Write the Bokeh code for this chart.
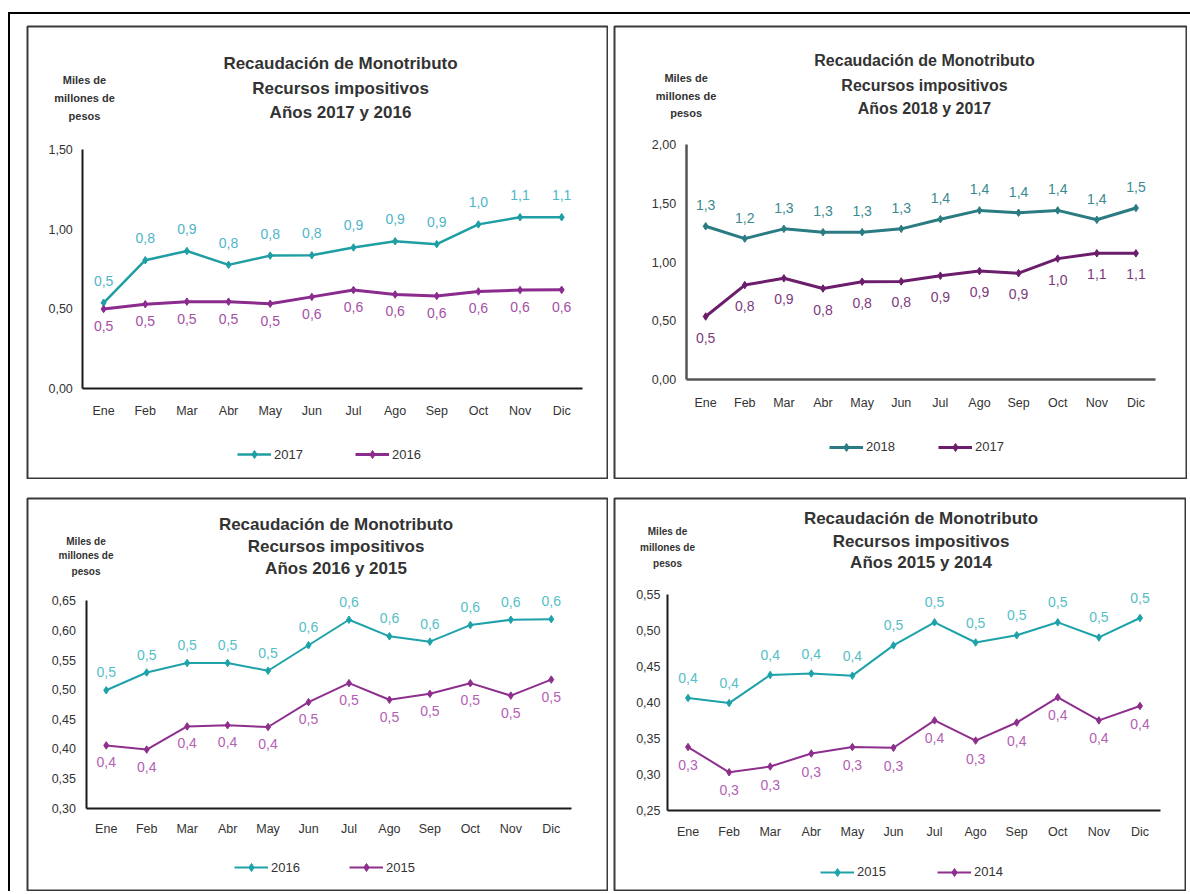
import numpy as np
from bokeh.plotting import figure
from bokeh.models import (Range1d, LinearAxis, FixedTicker, CustomJSTickFormatter,
                          Label, Legend, LegendItem)
from bokeh.layouts import row, column
from bokeh.embed import file_html
from bokeh.resources import INLINE
from bokeh.core.properties import value

# ---------------- data ----------------
months = ["Ene", "Feb", "Mar", "Abr", "May", "Jun", "Jul", "Ago", "Sep", "Oct", "Nov", "Dic"]

v2018 = [1.305, 1.20, 1.283, 1.255, 1.255, 1.283, 1.365, 1.44, 1.42, 1.44, 1.36, 1.46]
v2017 = [0.538, 0.805, 0.863, 0.776, 0.834, 0.836, 0.885, 0.924, 0.906, 1.03, 1.075, 1.075]
v2016 = [0.499, 0.529, 0.545, 0.545, 0.532, 0.575, 0.618, 0.59, 0.581, 0.609, 0.618, 0.619]
v2015 = [0.406, 0.399, 0.438, 0.440, 0.437, 0.479, 0.511, 0.483, 0.493, 0.511, 0.49, 0.517]
v2014 = [0.338, 0.303, 0.311, 0.329, 0.338, 0.337, 0.375, 0.347, 0.372, 0.407, 0.375, 0.395]

lab2018 = ["1,3", "1,2", "1,3", "1,3", "1,3", "1,3", "1,4", "1,4", "1,4", "1,4", "1,4", "1,5"]
lab2017 = ["0,5", "0,8", "0,9", "0,8", "0,8", "0,8", "0,9", "0,9", "0,9", "1,0", "1,1", "1,1"]
lab2016 = ["0,5", "0,5", "0,5", "0,5", "0,5", "0,6", "0,6", "0,6", "0,6", "0,6", "0,6", "0,6"]
lab2015 = ["0,4", "0,4", "0,4", "0,4", "0,4", "0,5", "0,5", "0,5", "0,5", "0,5", "0,5", "0,5"]
lab2014 = ["0,3", "0,3", "0,3", "0,3", "0,3", "0,3", "0,4", "0,3", "0,4", "0,4", "0,4", "0,4"]

ticks_p1 = [0.0, 0.5, 1.0, 1.5]
ticks_p2 = [0.0, 0.5, 1.0, 1.5, 2.0]
ticks_p3 = [0.30, 0.35, 0.40, 0.45, 0.50, 0.55, 0.60, 0.65]
ticks_p4 = [0.25, 0.30, 0.35, 0.40, 0.45, 0.50, 0.55]

title_l1 = "Recaudación de Monotributo"
title_l2 = "Recursos impositivos"
ytitle = ["Miles de", "millones de", "pesos"]

FONT = "Liberation Sans"


def panel(W, H, years, title_cx, title_ys, yt_cx, yt_ys, yt_size,
          ax_l, ax_r, ax_b, ax_t, yticks, series, legend_y,
          axis_color, axis_width, xstand, ystand, title_size="17px"):
    FW, FH = W - 2, H - 2
    xa, xb = ax_l - 1, ax_r - 1
    sx = 12.0 / (xb - xa)
    x_range = Range1d(0.5 - xa * sx, 12.5 + (FW - xb) * sx)
    yv0, yv1 = yticks[0], yticks[-1]
    pa, pb = ax_b - 1, ax_t - 1
    sy = (yv1 - yv0) / (pa - pb)
    y_range = Range1d(yv0 - (FH - pa) * sy, yv1 + pb * sy)

    p = figure(width=W, height=H, x_range=x_range, y_range=y_range,
               x_axis_type=None, y_axis_type=None, toolbar_location=None,
               output_backend="svg", min_border=1,
               outline_line_color="#3a3a3a", outline_line_width=2,
               background_fill_color="white", border_fill_color="white")

    yax = LinearAxis(fixed_location=0.5, bounds=(yv0, yv1),
                     ticker=FixedTicker(ticks=yticks),
                     formatter=CustomJSTickFormatter(code="return tick.toFixed(2).replace('.', ',');"),
                     axis_line_color=axis_color, axis_line_width=axis_width,
                     major_tick_line_color=None, minor_tick_line_color=None,
                     major_tick_in=0, major_tick_out=0, major_label_standoff=ystand,
                     major_label_text_font=FONT, major_label_text_font_size="12.5px",
                     major_label_text_color="#333333")
    p.add_layout(yax, "left")
    xax = LinearAxis(fixed_location=yv0, bounds=(0.5, 12.5),
                     ticker=FixedTicker(ticks=list(range(1, 13))),
                     formatter=CustomJSTickFormatter(args=dict(m=months),
                                                     code="return m[Math.round(tick) - 1];"),
                     axis_line_color=axis_color, axis_line_width=axis_width,
                     major_tick_line_color=None, minor_tick_line_color=None,
                     major_tick_in=0, major_tick_out=0, major_label_standoff=xstand,
                     major_label_text_font=FONT, major_label_text_font_size="12.5px",
                     major_label_text_color="#333333")
    p.add_layout(xax, "below")

    x = np.arange(1, 13)
    for (vals, labs, lc, tc, lw, off, name, lx) in series:
        lr = p.line(x, vals, line_color=lc, line_width=lw)
        sr = p.scatter(x, vals, marker="diamond", size=7.5, fill_color=lc, line_color=lc)
        p.text(x, vals, text=labs, y_offset=off, text_align="center", text_baseline="middle",
               text_font=value(FONT), text_font_size="14px", text_color=tc)
        leg = Legend(items=[LegendItem(label=name, renderers=[lr, sr])],
                     location=(lx - 1, FH - (legend_y - 1) - 10),
                     orientation="horizontal", padding=0, margin=0,
                     border_line_color=None, background_fill_alpha=0,
                     glyph_width=34, glyph_height=20, label_height=20,
                     label_standoff=3, label_text_font=FONT,
                     label_text_font_size="13px", label_text_color="#333333")
        p.add_layout(leg)

    lines = [title_l1, title_l2, "Años %s y %s" % years]
    for t, ty in zip(lines, title_ys):
        p.add_layout(Label(x=title_cx - 1, y=FH - (ty - 1), x_units="screen", y_units="screen",
                           text=t, text_align="center", text_baseline="middle",
                           text_font=FONT, text_font_style="bold",
                           text_font_size=title_size, text_color="#333333"))
    for t, ty in zip(ytitle, yt_ys):
        p.add_layout(Label(x=yt_cx - 1, y=FH - (ty - 1), x_units="screen", y_units="screen",
                           text=t, text_align="center", text_baseline="middle",
                           text_font=FONT, text_font_style="bold",
                           text_font_size=yt_size, text_color="#333333"))
    return p


TEAL_A, TEAL_A_T = "#1f9ea3", "#4fb5c9"
PURP_A, PURP_A_T = "#8b2b8d", "#a550a6"
TEAL_B, TEAL_B_T = "#2a7c82", "#3a8a90"
PURP_B, PURP_B_T = "#6c1e6c", "#7d3a7d"
TEAL_C, TEAL_C_T = "#1ea2aa", "#56bec6"
PURP_C, PURP_C_T = "#8e2f8e", "#b460b4"

p1 = panel(582, 454, ("2017", "2016"), 314, [38, 62.5, 86.5], 58, [54, 72, 90], "11px",
           56.3, 556, 363, 124, ticks_p1,
           [(v2017, lab2017, TEAL_A, TEAL_A_T, 2.5, -22, "2017", 211),
            (v2016, lab2016, PURP_A, PURP_A_T, 3, 17, "2016", 329)],
           429, "#1a1a1a", 2, 15, 10)

p2 = panel(574, 454, ("2018", "2017"), 311, [35, 59.5, 82.5], 72.6, [52, 70, 87], "11px",
           72.6, 542, 354.3, 119, ticks_p2,
           [(v2018, lab2018, TEAL_B, TEAL_B_T, 3, -21, "2018", 216),
            (v2017, lab2017, PURP_B, PURP_B_T, 3, 21, "2017", 325)],
           421.5, "#555555", 2.5, 16, 10, title_size="16px")

p3 = panel(582, 394, ("2016", "2015"), 309.5, [27, 49, 71], 59.5, [44, 58, 74], "10px",
           59.5, 545, 310.7, 103.3, ticks_p3,
           [(v2016, lab2016, TEAL_C, TEAL_C_T, 2, -18, "2016", 208),
            (v2015, lab2015, PURP_C, PURP_C_T, 2, 17, "2015", 323)],
           370, "#1a1a1a", 2, 14, 10)

p4 = panel(573, 394, ("2015", "2014"), 307.5, [20.7, 44, 65], 54, [34, 50, 65.7], "10px",
           54, 547, 313, 96.7, ticks_p4,
           [(v2015, lab2015, TEAL_C, TEAL_C_T, 2, -20, "2015", 207),
            (v2014, lab2014, PURP_C, PURP_C_T, 2, 18, "2014", 324)],
           374.7, "#1a1a1a", 2, 14, 7)

top = row(p1, p2, spacing=5)
bot = row(p3, p4, spacing=5)
inner = column(top, bot, spacing=18, margin=(11, 3, 0, 16))
outer = column(inner, margin=(12, 0, 0, 8),
               styles={"border-top": "2px solid #000000", "border-left": "2px solid #000000"})

open("out.html", "w").write(file_html(outer, INLINE))
